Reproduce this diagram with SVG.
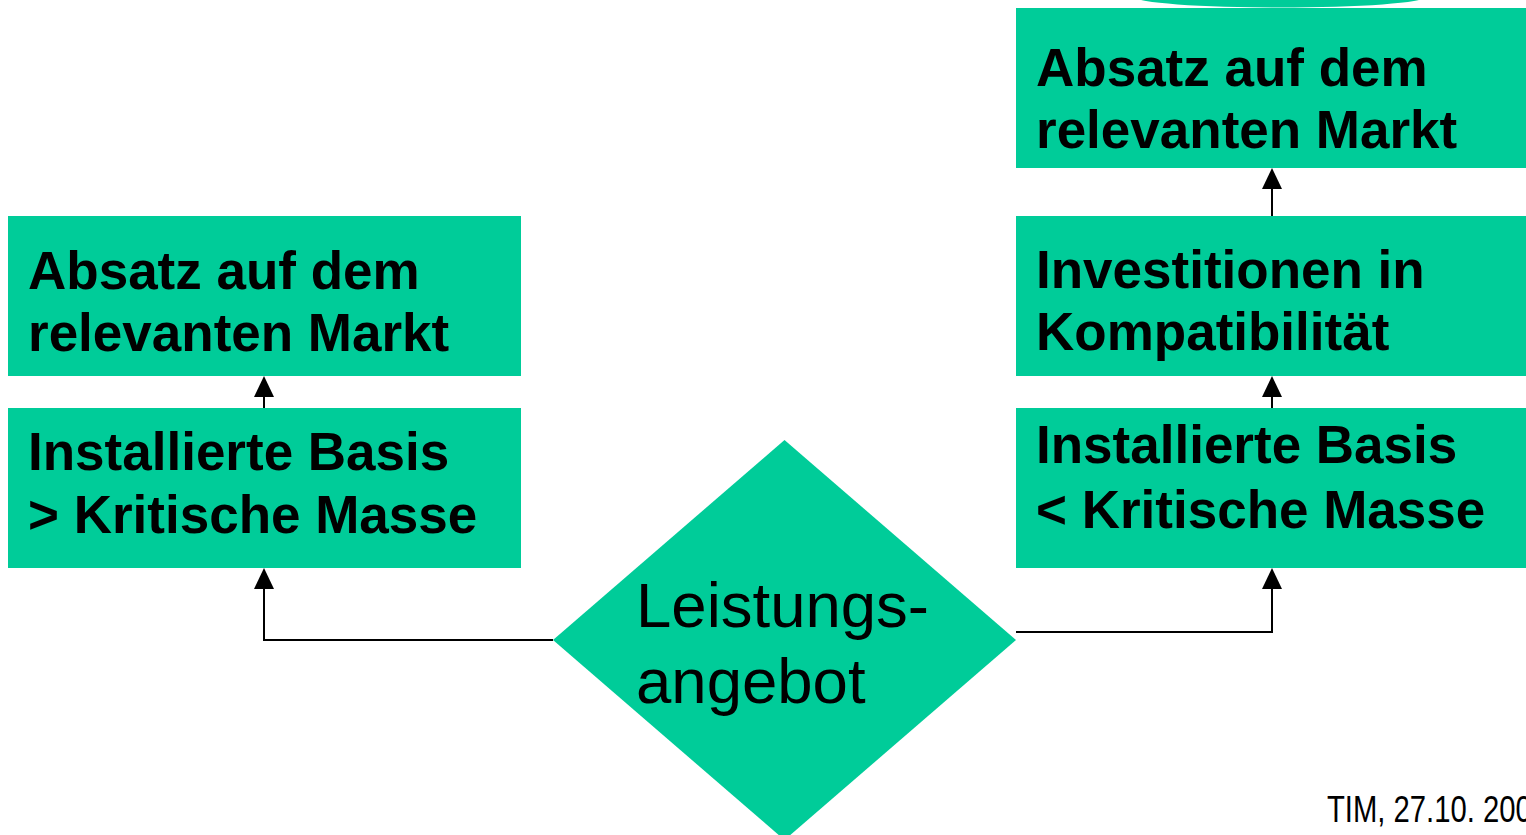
<svg xmlns="http://www.w3.org/2000/svg" width="1526" height="835" viewBox="0 0 1526 835">
<defs>
<style>
.box{fill:#00CC99;}
.t{font-family:"Liberation Sans",Arial,sans-serif;font-weight:bold;font-size:53px;fill:#000;}
.d{font-family:"Liberation Sans",Arial,sans-serif;font-size:63.5px;fill:#000;}
.c{fill:none;stroke:#000;stroke-width:2;}
.ah{fill:#000;}
</style>
</defs>
<rect width="1526" height="835" fill="#fff"/>
<ellipse cx="1280" cy="-3" rx="145" ry="10.5" fill="#00CC99"/>
<g id="connectors">
<path class="c" d="M553,640 H264 V588" />
<polygon class="ah" points="264,568 254,589 274,589"/>
<path class="c" d="M264,408 V396" />
<polygon class="ah" points="264,376 254,397 274,397"/>
<path class="c" d="M1016,632 H1272 V588" />
<polygon class="ah" points="1272,568 1262,589 1282,589"/>
<path class="c" d="M1272,408 V396" />
<polygon class="ah" points="1272,376 1262,397 1282,397"/>
<path class="c" d="M1272,216 V188" />
<polygon class="ah" points="1272,168 1262,189 1282,189"/>
</g>
<g id="n-absatz-left">
<rect class="box" x="8" y="216" width="513" height="160"/>
<text class="t" x="28" y="289">Absatz auf dem</text>
<text class="t" x="28" y="351">relevanten Markt</text>
</g>
<g id="n-basis-left">
<rect class="box" x="8" y="408" width="513" height="160"/>
<text class="t" x="28" y="470">Installierte Basis</text>
<text class="t" x="28" y="533">&gt; Kritische Masse</text>
</g>
<g id="n-absatz-right">
<rect class="box" x="1016" y="8" width="510" height="160"/>
<text class="t" x="1036" y="86">Absatz auf dem</text>
<text class="t" x="1036" y="148">relevanten Markt</text>
</g>
<g id="n-invest">
<rect class="box" x="1016" y="216" width="510" height="160"/>
<text class="t" x="1036" y="288">Investitionen in</text>
<text class="t" x="1036" y="350">Kompatibilität</text>
</g>
<g id="n-basis-right">
<rect class="box" x="1016" y="408" width="510" height="160"/>
<text class="t" x="1036" y="463">Installierte Basis</text>
<text class="t" x="1036" y="528">&lt; Kritische Masse</text>
</g>
<g id="n-leistung">
<polygon class="box" points="784.5,440 1016,640 784.5,840 553,640"/>
<text class="d" x="636" y="627">Leistungs-</text>
<text class="d" x="636" y="703">angebot</text>
</g>
<text transform="translate(1327,822) scale(0.79,1)" font-family="Liberation Sans, Arial, sans-serif" font-size="37" fill="#000">TIM, 27.10. 200</text>
</svg>
